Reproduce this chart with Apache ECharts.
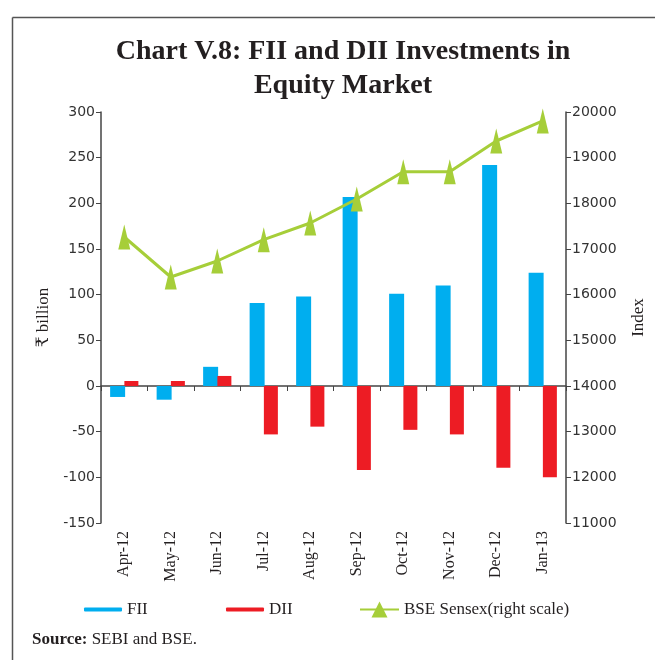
<!DOCTYPE html>
<html>
<head>
<meta charset="utf-8">
<script src="https://cdn.jsdelivr.net/npm/echarts@6/dist/echarts.min.js"></script>
<style>html,body{margin:0;padding:0;background:#fff;}#chart{width:655px;height:660px;}</style>
</head>
<body>
<div id="chart"></div>
<script>
const categories = ['Apr-12','May-12','Jun-12','Jul-12','Aug-12','Sep-12','Oct-12','Nov-12','Dec-12','Jan-13'];
const fii = [-12, -15, 21, 91, 98, 207, 101, 110, 242, 124];
const dii = [5.5, 5.5, 11, -53, -44.5, -92, -48, -53, -89.5, -100];
const sensex = [17263, 16387, 16737, 17204, 17569, 18095, 18693, 18693, 19365, 19803];

const SERIF = '"Liberation Serif", "DejaVu Serif", serif';
const SANS = '"DejaVu Sans", sans-serif';
const AX = '#444';

const chart = echarts.init(document.getElementById('chart'), null, {renderer: 'canvas'});
chart.setOption({
  animation: false,
  backgroundColor: '#fff',
  title: {
    text: 'Chart V.8: FII and DII Investments in\nEquity Market',
    left: 338, top: 30, textAlign: 'center',
    textStyle: {fontFamily: SERIF, fontWeight: 'bold', fontSize: 28, lineHeight: 34, color: '#231f20'}
  },
  grid: {left: 101, right: 85, top: 112, bottom: 137, containLabel: false},
  legend: [
    {data: [{name: 'FII', icon: 'roundRect'}], left: 79, top: 596, itemWidth: 38, itemHeight: 4, itemGap: 10,
     textStyle: {fontFamily: SERIF, fontSize: 17, color: '#231f20'}},
    {data: [{name: 'DII', icon: 'roundRect'}], left: 221, top: 596, itemWidth: 38, itemHeight: 4, itemGap: 10,
     textStyle: {fontFamily: SERIF, fontSize: 17, color: '#231f20'}},
    {data: ['BSE Sensex(right scale)'], left: 354, top: 596, itemWidth: 39, itemHeight: 20, itemGap: 10,
     textStyle: {fontFamily: SERIF, fontSize: 17, color: '#231f20'}}
  ],
  xAxis: [
    {type: 'category', data: categories, position: 'bottom',
     axisLine: {show: false, onZero: false}, axisTick: {show: false},
     axisLabel: {interval: 0, rotate: 90, margin: 8, fontFamily: SERIF, fontSize: 16, color: '#231f20'}},
    {type: 'category', data: categories, position: 'bottom',
     axisLine: {show: true, onZero: true, onZeroAxisIndex: 0, lineStyle: {color: AX, width: 1.5}},
     axisTick: {show: true, interval: 0, length: 5, lineStyle: {color: AX}},
     axisLabel: {show: false, interval: 0}}
  ],
  yAxis: [
    {type: 'value', min: -150, max: 300, interval: 50, name: '₹ billion', nameLocation: 'middle', nameGap: 42,
     nameTextStyle: {fontFamily: SERIF, fontSize: 17, color: '#231f20'},
     axisLine: {show: true, lineStyle: {color: AX, width: 1.5}},
     axisTick: {show: true, length: 5, lineStyle: {color: AX}},
     axisLabel: {fontFamily: SANS, fontSize: 14, color: '#333', margin: 6},
     splitLine: {show: false}},
    {type: 'value', min: 11000, max: 20000, interval: 1000, name: 'Index', nameLocation: 'middle', nameGap: 64, nameRotate: 90,
     nameTextStyle: {fontFamily: SERIF, fontSize: 17, color: '#231f20'},
     axisLine: {show: true, lineStyle: {color: AX, width: 1.5}},
     axisTick: {show: true, length: 5, lineStyle: {color: AX}},
     axisLabel: {fontFamily: SANS, fontSize: 14, color: '#333', margin: 6, formatter: v => String(v)},
     splitLine: {show: false}}
  ],
  series: [
    {name: 'FII', type: 'bar', data: fii, xAxisIndex: 0, yAxisIndex: 0, barWidth: 15, barGap: '-5%',
     itemStyle: {color: '#00aeef'}},
    {name: 'DII', type: 'bar', data: dii, xAxisIndex: 0, yAxisIndex: 0, barWidth: 14, barGap: '-5%',
     itemStyle: {color: '#ed1c24'}},
    {name: 'BSE Sensex(right scale)', type: 'line', data: sensex, xAxisIndex: 0, yAxisIndex: 1,
     symbol: 'triangle', symbolSize: [12, 25], showAllSymbol: true,
     lineStyle: {color: '#a6ce39', width: 3}, itemStyle: {color: '#a6ce39'}, z: 5}
  ],
  graphic: [
    {type: 'line', shape: {x1: 12.5, y1: 17.5, x2: 655, y2: 17.5}, style: {stroke: '#555', lineWidth: 1.5}},
    {type: 'line', shape: {x1: 12.5, y1: 17.5, x2: 12.5, y2: 660}, style: {stroke: '#555', lineWidth: 1.5}},
    {type: 'text', left: 32, top: 631, style: {
      text: '{b|Source:} SEBI and BSE.',
      font: '17px ' + SERIF, fill: '#231f20',
      rich: {b: {fontWeight: 'bold', fontFamily: SERIF, fontSize: 17, fill: '#231f20'}}
    }}
  ]
});
</script>
</body>
</html>
